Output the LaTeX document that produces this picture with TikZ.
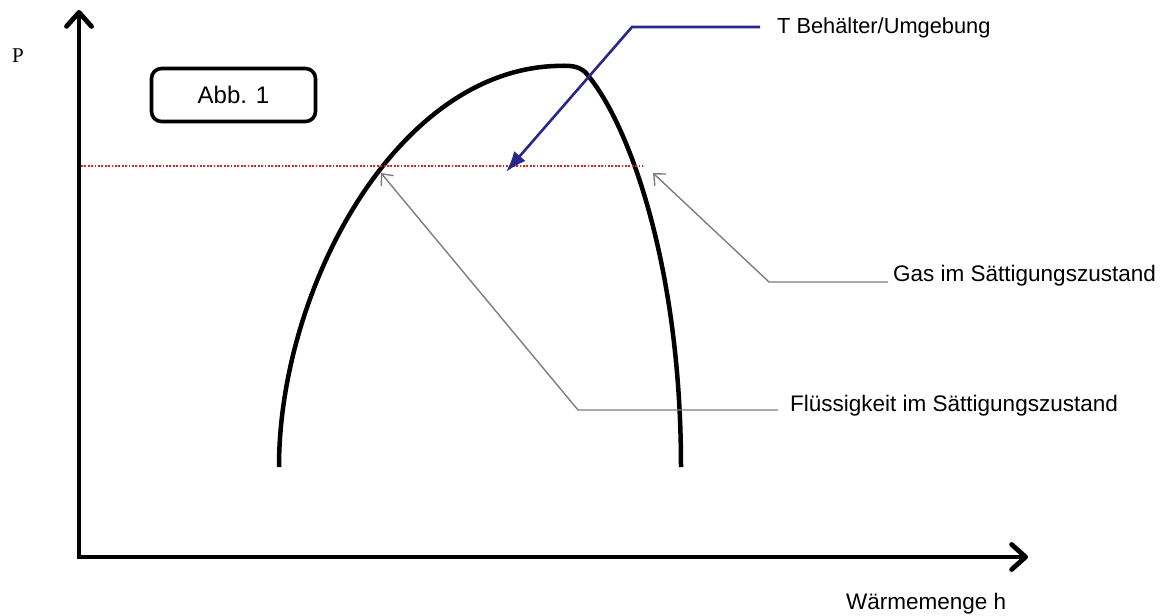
\documentclass[tikz,border=0pt]{standalone}
\usepackage{fontspec}
\setmainfont{Liberation Sans}
\newfontfamily\serifP{Liberation Serif}
\usetikzlibrary{arrows.meta}
\definecolor{arrowblue}{RGB}{40,40,140}
\definecolor{leadgray}{RGB}{125,125,125}
\definecolor{dotred}{RGB}{225,30,30}
\tikzset{
  axisline/.style={line width=4.8pt, line join=miter,
    {Straight Barb[length=14pt,width=25pt,line cap=round,line join=round]}-{Straight Barb[length=14pt,width=25pt,line cap=round,line join=round]}},
  domecurve/.style={line width=4.5pt, line cap=butt},
  isobar/.style={dotred, line width=2.8pt, dash pattern=on 1.8pt off 1.6pt},
  bluearrow/.style={arrowblue, line width=2.6pt, line join=miter, -{Latex[length=21pt,width=15pt]}},
  leader/.style={leadgray, line width=1.4pt, line join=miter, -{Straight Barb[length=9pt,width=16pt]}},
  lbl/.style={inner sep=0pt, font=\fontsize{22.5}{26}\selectfont},
  figbox/.style={draw, line width=3.6pt, rounded corners=10pt, minimum width=164pt, minimum height=53pt, font=\fontsize{24}{28}\selectfont}
}
\begin{document}
\begin{tikzpicture}[x=1pt,y=-1pt]
\useasboundingbox (0,0) rectangle (1171,616);
% axes
\coordinate (ytip) at (79,10);
\coordinate (origin) at (79,557);
\coordinate (xtip) at (1028,557);
\draw[axisline] (ytip) -- (origin) -- (xtip);
% labels of axes
\node[lbl, anchor=base, font=\serifP\fontsize{21}{24}\selectfont] (plabel) at (18,62) {P};
\node[lbl, anchor=base west] (hlabel) at (846,609) {Wärmemenge h};
% figure box
\node[figbox] (abb) at (233.5,95) {Abb. 1};
% saturation dome
\draw[domecurve] (279,467) .. controls (279,290) and (395,72) .. (555,66)
   .. controls (568,65.5) and (577,65) .. (585,72)
   .. controls (628,120) and (681,265) .. (681,467);
% isobar
\coordinate (isoL) at (81,166);
\coordinate (isoR) at (643,166);
\draw[isobar] (isoL) -- (isoR);
% T label with blue arrow
\node[lbl, anchor=base west, font=\fontsize{21.8}{26}\selectfont] (tlabel) at (777,33) {T Behälter/Umgebung};
\coordinate (tbend) at (632,27);
\coordinate (ttip) at (506,172);
\draw[bluearrow] (760,27) -- (tbend) -- (ttip);
% gas label
\node[lbl, anchor=base west] (gaslabel) at (893,281) {Gas im Sättigungszustand};
\coordinate (gasstart) at (888,282);
\coordinate (gasbend) at (769,282);
\coordinate (gastip) at (653,173);
\draw[leader] (gasstart) -- (gasbend) -- (gastip);
% liquid label
\node[lbl, anchor=base west] (liqlabel) at (790,411) {Flüssigkeit im Sättigungszustand};
\coordinate (liqstart) at (778,410);
\coordinate (liqbend) at (578,410);
\coordinate (liqtip) at (381,173);
\draw[leader] (liqstart) -- (liqbend) -- (liqtip);
\end{tikzpicture}
\end{document}
